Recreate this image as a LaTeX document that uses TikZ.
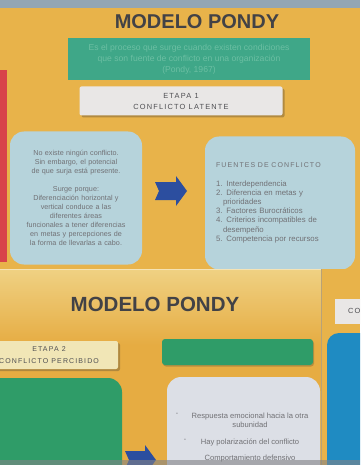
\documentclass[tikz,border=0pt]{standalone}
\usepackage{fontspec}
\setmainfont{Liberation Sans}
\newfontfamily\spaced[LetterSpace=16]{Liberation Sans}
\usetikzlibrary{shadows}
\definecolor{sheet}{HTML}{E8B34A}
\definecolor{sheetpale}{HTML}{EFD183}
\definecolor{sheetdeep}{HTML}{E6AC42}
\definecolor{topband}{HTML}{93A6B4}
\definecolor{redstrip}{HTML}{D8434A}
\definecolor{tealbox}{HTML}{3FA788}
\definecolor{tealtext}{HTML}{6CBFA3}
\definecolor{labelbox}{HTML}{E9E7E6}
\definecolor{palebox}{HTML}{F1E6B6}
\definecolor{skybox}{HTML}{B6D3DB}
\definecolor{greybox}{HTML}{DCDFE6}
\definecolor{greenbox}{HTML}{2F9C68}
\definecolor{deepblue}{HTML}{1F8BC2}
\definecolor{arrowblue}{HTML}{2C4E9F}
\definecolor{inktext}{HTML}{4E4E52}
\definecolor{edge}{HTML}{9A7A3C}
\newcommand{\smalltxt}{\fontsize{7.2}{9}\selectfont}

\begin{document}
\begin{tikzpicture}[x=1pt,y=-1pt,
    titletxt/.style={font=\fontsize{20}{22}\selectfont\bfseries, text=inktext!85!black},
    etapa/.style={fill=labelbox, drop shadow={shadow xshift=2pt, shadow yshift=-2pt, fill=edge, opacity=0.7},
        rounded corners=2pt, align=center, text=inktext, font=\spaced\fontsize{7.4}{11}\selectfont},
    infobox/.style={fill=skybox, rounded corners=14pt, text=inktext!80, font=\smalltxt},
]
\useasboundingbox (0,0) rectangle (360,465);
\clip (0,0) rectangle (360,465);

% first sheet
\fill[sheet] (0,0) rectangle (360,270);
\fill[topband] (0,0) rectangle (360,8);
\fill[redstrip] (0,70) rectangle (7,262);
\node[titletxt] (titulo1) at (197,21.5) {MODELO PONDY};
\node[fill=tealbox, minimum width=242, minimum height=42, inner sep=0pt,
      text=tealtext, align=center, font=\fontsize{8.6}{11}\selectfont] (defin) at (189,59)
    {Es el proceso que surge cuando existen condiciones\\
     que son fuente de conflicto en una organización\\
     (Pondy, 1967)};
\node[etapa, minimum width=203, minimum height=29, inner sep=0pt] (etapa1) at (181,101)
    {ETAPA 1\\CONFLICTO LATENTE};

\node[infobox, minimum width=132, minimum height=133, align=center, text width=120] (latente) at (76,198)
    {No existe ningún conflicto.\\ Sin embargo, el potencial\\ de que surja está presente.\\[9pt]
     Surge porque:\\ Diferenciación horizontal y\\ vertical conduce a las\\ diferentes áreas\\
     funcionales a tener diferencias\\ en metas y percepciones de\\ la forma de llevarlas a cabo.};
\node[infobox, minimum width=150, minimum height=133, align=left, text width=128,
      font=\fontsize{7.8}{9.2}\selectfont] (fuentes) at (280,203)
    {{\spaced\fontsize{7}{9}\selectfont FUENTES DE CONFLICTO}\\[9pt]
     1. Interdependencia\\ 2. Diferencia en metas y\\ \hspace*{7pt}prioridades\\
     3. Factores Burocráticos\\ 4. Criterios incompatibles de\\ \hspace*{7pt}desempeño\\
     5. Competencia por recursos};
% flecha entre las dos cajas
\coordinate (flecha1) at (171,191);
\fill[arrowblue] ([xshift=-16]flecha1) ++(0,-9) -- ++(21,0) -- ++(0,-6) -- ++(11,15)
    -- ++(-11,15) -- ++(0,-6) -- ++(-21,0) -- ++(4,-9) -- cycle;

% second sheet
\fill[sheetdeep] (0,269) rectangle (322,465);
\shade[top color=sheetpale, bottom color=sheetdeep] (0,269) rectangle (322,345);
\draw[sheetpale!60!white, line width=1.2] (0,269.5) -- (321,269.5);
\draw[edge!70, line width=0.8] (321.5,269) -- (321.5,465);
\node[titletxt, font=\fontsize{20.5}{22}\selectfont\bfseries] (titulo2) at (155,304) {MODELO PONDY};
\node[etapa, fill=palebox, minimum width=138, minimum height=28, inner sep=0pt,
      font=\spaced\fontsize{7}{12}\selectfont] (etapa2) at (49,355)
    {ETAPA 2\\CONFLICTO PERCIBIDO};
\node[fill=greenbox, rounded corners=3pt, minimum width=151, minimum height=26,
      drop shadow={shadow xshift=1pt, shadow yshift=-1.5pt, fill=edge, opacity=0.6}] (barra2) at (237.5,352) {};
\fill[greenbox, rounded corners=14pt] (-20,378) -- (122,378) -- (122,480) -- (-20,480) -- cycle;
\coordinate (flecha2) at (139,460);
\fill[arrowblue] ([xshift=-14]flecha2) ++(0,-9) -- ++(20,0) -- ++(0,-6) -- ++(11,15)
    -- ++(-11,15) -- ++(0,-6) -- ++(-20,0) -- ++(4,-9) -- cycle;
\fill[greybox, rounded corners=14pt] (167,377) -- (320,377) -- (320,480) -- (167,480) -- cycle;
\node[text=inktext!80, font=\fontsize{7.6}{9}\selectfont, align=center, anchor=north] (respuesta) at (250,409)
    {Respuesta emocional hacia la otra\\ subunidad\\[8pt] Hay polarización del conflicto\\[7pt]
     Comportamiento defensivo};
\node[text=inktext!80, font=\fontsize{7}{9}\selectfont] (punto1) at (177,414) {-};
\node[text=inktext!80, font=\fontsize{7}{9}\selectfont] (punto2) at (185,440) {-};

% third sheet
\fill[sheet] (322,269) rectangle (360,465);
\node[fill=labelbox, minimum width=30, minimum height=25, inner sep=0pt, anchor=west,
      text=inktext, font=\spaced\fontsize{7.4}{9}\selectfont] (etapa3) at (335,311) {\hspace*{8pt}CO};
\fill[deepblue, rounded corners=12pt] (327,333) -- (375,333) -- (375,480) -- (327,480) -- cycle;

% borde inferior de la foto
\fill[inktext!70, opacity=0.6] (0,460) rectangle (360,465);
\end{tikzpicture}
\end{document}
